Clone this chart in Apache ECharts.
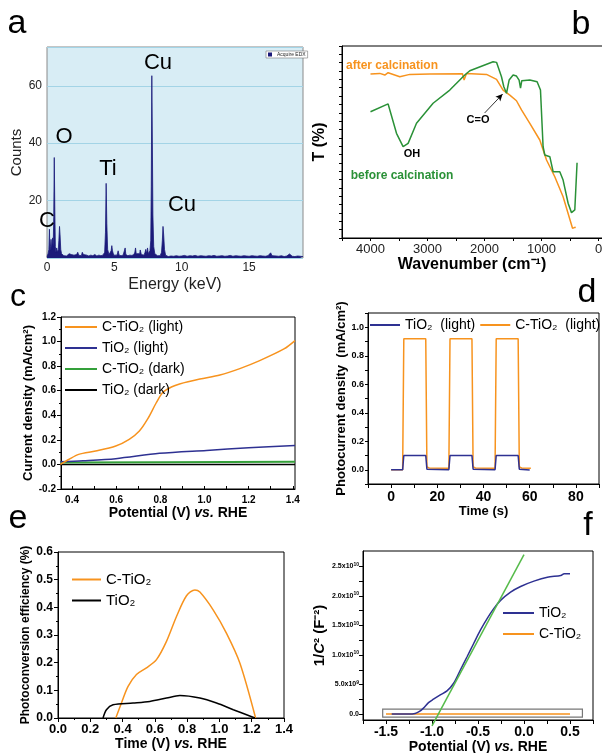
<!DOCTYPE html>
<html>
<head>
<meta charset="UTF-8">
<title>TiO2 / C-TiO2 panels</title>
<script src="https://cdn.jsdelivr.net/npm/echarts@6/dist/echarts.min.js"></script>
<style>
  html, body { margin: 0; padding: 0; background: #fff; }
  #main { width: 602px; height: 753px; }
</style>
</head>
<body>
<div id="main"></div>
<script>
// ---- a: EDX spectrum ----
var edxEnergy = [0.00,0.08,0.14,0.18,0.22,0.26,0.30,0.34,0.38,0.42,0.46,0.50,0.54,0.58,0.62,0.66,0.72,0.78,0.84,0.88,
  0.93,0.97,1.02,1.08,1.15,1.25,1.35,1.45,1.55,1.65,1.72,1.80,1.90,2.00,2.10,2.20,2.28,2.35,2.45,2.55,
  2.62,2.70,2.80,2.95,3.10,3.25,3.40,3.55,3.70,3.85,4.00,4.15,4.28,4.34,4.39,4.44,4.50,4.60,4.70,4.76,
  4.81,4.86,4.95,5.05,5.20,5.28,5.35,5.50,5.65,5.75,5.80,5.85,6.00,6.15,6.30,6.45,6.52,6.57,6.62,6.75,
  6.88,6.92,7.00,7.10,7.20,7.28,7.33,7.40,7.46,7.52,7.58,7.64,7.70,7.74,7.78,7.82,7.86,7.92,8.00,8.10,
  8.20,8.30,8.40,8.50,8.56,8.61,8.66,8.72,8.80,8.90,9.00,9.20,9.40,9.60,9.80,10.0,10.2,10.4,10.6,10.8,
  11.0,11.2,11.4,11.6,11.8,12.0,12.2,12.4,12.6,12.8,13.0,13.2,13.4,13.6,13.8,14.0,14.2,14.4,14.6,14.8,
  15.0,15.2,15.4,15.6,15.8,16.0,16.2,16.4,16.6,16.7,16.8,17.0,17.2,17.4,17.6,17.8,18.0,18.2,18.4,18.6,
  18.8,19.0];
var edxCounts = [0.5,1.5,3,10,2.5,4,6.5,3,5,7,4,14,35,17,4,2,3.5,2,3,6,
  11,8,3,1.5,1,0.8,1,0.7,1,1.5,2,1.2,0.8,1,0.8,1.2,2,1,1.5,0.8,
  2,1.2,0.8,1,0.7,1,0.8,1.2,0.7,1,0.8,1,2,9,26,12,3,1.2,1,2.5,
  4.3,2.5,1,0.8,1,2.5,1,0.8,1,1.5,3.5,1.2,0.8,1,0.9,1.2,2,3.5,1.5,1,
  1.5,2.8,1.2,1.5,1,2,3,1.5,3.5,1.5,1.2,2.5,6,25,63.5,40,15,4,1.5,1,
  0.8,0.9,0.8,2,6,11,8,3,1,0.8,0.5,0.7,0.6,0.8,0.6,0.7,0.9,0.6,0.8,0.7,
  0.9,0.6,0.8,0.7,0.6,0.8,0.7,0.9,0.6,0.7,0.8,0.6,0.7,0.9,0.6,0.8,0.7,0.6,0.8,0.7,
  0.6,0.8,0.7,0.6,0.8,0.7,0.6,0.8,1.8,0.8,0.6,0.7,0.6,0.8,0.5,0.7,1.4,0.6,0.5,0.7,
  0.6,0.5];

// ---- b: FTIR ----
var ftirAfterWn = [4000,3837,3749,3691,3486,3311,2960,2386,2358,2316,1965,1789,1674,1556,1439,1351,1205,1030,912,767,621,456,416,400];
var ftirAfterT  = [98.2,98.6,97.6,99.0,96.6,98.0,98.2,98.4,94.6,98.6,98.0,95.0,88.6,85.6,82.2,76.7,68.7,58.7,46.7,36.7,24.7,5.8,6.4,6.2];
var ftirBeforeWn = [4000,3691,3544,3428,3340,3193,2902,2609,2346,2258,1849,1789,1702,1661,1614,1568,1498,1439,1393,1368,1346,1205,1077,1018,972,942,854,796,679,621,533,474,416,376];
var ftirBeforeT  = [75.6,80.3,62.7,54.7,56.7,68.7,80.7,88.6,97.6,100.2,105.6,105.2,96.6,90.6,86.7,94.6,97.6,97.0,94.6,89.7,94.2,94.6,93.6,88.6,54.7,49.7,48.7,39.7,39.7,34.7,20.8,15.2,16.8,45.1];

// ---- c: LSV ----
var lsvCLightV = [0.347,0.385,0.43,0.507,0.598,0.659,0.705,0.742,0.781,0.811,0.85,0.887,0.979,1.07,1.16,1.25,1.36,1.41];
var lsvCLightI = [0,0.04,0.082,0.109,0.15,0.204,0.272,0.368,0.5,0.586,0.63,0.655,0.695,0.728,0.78,0.845,0.94,1.008];
var lsvTLightV = [0.347,0.45,0.598,0.796,1.009,1.2,1.41];
var lsvTLightI = [0.022,0.03,0.047,0.09,0.114,0.135,0.155];
var lsvDarkV = [0.347,0.8,1.41];
var lsvCDarkI = [0.015,0.018,0.022];
var lsvTDarkI = [0,0,0];
var lsvLabelV = [0.4,0.6,0.8,1.0,1.2,1.4];
var lsvTickV = [0.4,0.5,0.6,0.7,0.8,0.9,1.0,1.1,1.2,1.3,1.4];

// ---- d: chopped photocurrent ----
var chopCTime = [0,5,5.5,15,15.5,16.5,25,25.5,35,35.5,36.5,45,45.5,55,55.5,56.5,60.5];
var chopCI    = [0,0,0.92,0.92,0.02,0.012,0.01,0.92,0.92,0.02,0.012,0.01,0.92,0.92,0.02,0.012,0.01];
var chopTTime = [0,5,5.5,15,15.5,25,25.5,35,35.5,45,45.5,55,55.5,60];
var chopTI    = [0,0,0.1,0.1,0.004,0,0.1,0.1,0.004,0,0.1,0.1,0.004,-0.002];

// ---- e: photoconversion efficiency ----
var effCV = [0.358,0.393,0.434,0.486,0.548,0.61,0.672,0.734,0.796,0.848,0.879,0.962,1.044,1.127,1.224];
var effCE = [0,0.054,0.114,0.157,0.181,0.211,0.277,0.367,0.442,0.463,0.455,0.39,0.306,0.198,0];
var effTV = [0.279,0.3,0.341,0.465,0.569,0.672,0.755,0.879,0.982,1.086,1.22];
var effTE = [0,0.03,0.048,0.054,0.06,0.072,0.081,0.072,0.054,0.03,0];

// ---- f: Mott-Schottky ----
var msTV = [-1.438,-1.257,-1.183,-1.136,-1.093,-1.038,-0.984,-0.91,-0.837,-0.765,-0.692,-0.619,-0.547,-0.474,-0.401,-0.329,-0.255,-0.146,-0.037,0.108,0.254,0.4,0.437,0.5];
var msTY = [0,0,0.1e9,0.44e9,1.01e9,1.95e9,2.52e9,3.25e9,3.92e9,5.22e9,7.46e9,9.7e9,1.195e10,1.42e10,1.616e10,1.785e10,1.924e10,2.064e10,2.16e10,2.25e10,2.316e10,2.345e10,2.374e10,2.374e10];
var msCV = [-1.5,-0.5,0.5];
var msCY = [0,0,0];
var msFitV = [-1.0,0.0];
var msFitY = [-2.0e9,2.7e10];
var msTickY = [0,5e9,1e10,1.5e10,2e10,2.5e10];
var msMinorY = [0,2.5e9,5e9,7.5e9,1e10,1.25e10,1.5e10,1.75e10,2e10,2.25e10,2.5e10];
var msTickText = ['{m|0.0}','{m|5.0x10}{s|9}','{m|1.0x10}{s|10}','{m|1.5x10}{s|10}','{m|2.0x10}{s|10}','{m|2.5x10}{s|10}'];

var ORANGE = '#f7931e', BLUE = '#2e3192', GREEN = '#34a03a', NAVY = '#1b1a7a';
var FONT = '"Liberation Sans", Arial, sans-serif';

function pairs(xs, ys) { return xs.map(function (x, i) { return [x, ys[i]]; }); }

function axis(o) {
  return echarts.util.merge({
    type: 'value',
    splitLine: { show: false },
    axisLine: { onZero: false, lineStyle: { color: '#000', width: 1 } },
    axisTick: { lineStyle: { color: '#000' }, length: 4 },
    minorTick: { lineStyle: { color: '#000' }, length: 2 },
    axisLabel: { color: '#000', fontWeight: 'bold' },
    nameLocation: 'middle',
    nameTextStyle: { color: '#000', fontWeight: 'bold' }
  }, o, true);
}

function grid(l, t, w, h, extra) {
  return echarts.util.merge({
    left: l, top: t, width: w, height: h, outerBoundsMode: 'none',
    show: true, borderColor: '#000', borderWidth: 1
  }, extra || {}, true);
}

function line(name, xi, data, color, width, extra) {
  return echarts.util.merge({
    type: 'line', name: name, xAxisIndex: xi, yAxisIndex: xi, data: data,
    symbol: 'none', silent: true, itemStyle: { color: color },
    lineStyle: { color: color, width: width }
  }, extra || {}, true);
}

function txt(s, x, y, font, color) {
  return { type: 'text', x: x, y: y, z: 100,
    style: { text: s, font: font, fill: color || '#000', textAlign: 'center', textVerticalAlign: 'middle' } };
}

var legendText = {
  'Acquire EDX': 'Acquire EDX',
  c1: 'C-TiO\u2082 (light)', c2: 'TiO\u2082 (light)', c3: 'C-TiO\u2082 (dark)', c4: 'TiO\u2082 (dark)',
  d1: 'TiO\u2082  (light)', d2: 'C-TiO\u2082  (light)',
  e1: 'C-TiO\u2082', e2: 'TiO\u2082',
  f1: 'TiO\u2082', f2: 'C-TiO\u2082'
};
function lg(o) {
  return echarts.util.merge({
    selectedMode: false, padding: 0,
    itemStyle: { opacity: 0 },
    textStyle: { color: '#000', fontSize: 14, fontFamily: FONT },
    formatter: function (n) { return legendText[n]; }
  }, o, true);
}

var vsRich = {
  n: { fontWeight: 'bold', fontSize: 14, color: '#000', fontFamily: FONT },
  i: { fontWeight: 'bold', fontStyle: 'italic', fontSize: 14, color: '#000', fontFamily: FONT }
};

var chart = echarts.init(document.getElementById('main'), null, { renderer: 'canvas' });
chart.setOption({
  animation: false,
  backgroundColor: '#fff',
  textStyle: { fontFamily: FONT },
  grid: [
    grid(47, 47, 256, 211, { backgroundColor: '#d8edf5', borderColor: '#8a8a8a' }),
    // b runs past the right edge of the page (the 0 cm-1 end is cut off in the figure)
    grid(342, 46, 285, 192),
    grid(61, 317, 234, 172),
    grid(368, 313, 231, 171),
    grid(58, 552, 226, 166),
    grid(363, 551, 230, 169)
  ],
  xAxis: [
    axis({ gridIndex: 0, min: 0, max: 19, interval: 5,
      axisLine: { show: false }, axisTick: { show: false },
      axisLabel: { fontWeight: 'normal', fontSize: 12, color: '#222', margin: 4, showMaxLabel: false },
      name: 'Energy (keV)', nameGap: 19, nameTextStyle: { fontWeight: 'normal', fontSize: 16, color: '#222' } }),
    axis({ gridIndex: 1, min: -500, max: 4500, interval: 500, inverse: true,
      axisTick: { length: 3 },
      axisLabel: { fontWeight: 'normal', fontSize: 13, color: '#222', margin: 5,
        formatter: function (v) { var r = Math.round(v); return (r >= 0 && r <= 4000 && r % 1000 === 0) ? String(r) : ''; } },
      name: 'Wavenumber (cm\u207b\u00b9)', nameGap: 19,
      nameTextStyle: { fontSize: 16, padding: [0, 25, 0, 0] } }),
    axis({ gridIndex: 2, min: 0.35, max: 1.41,
      axisTick: { inside: true, length: 3, customValues: lsvTickV },
      axisLabel: { fontSize: 10, margin: 6, customValues: lsvLabelV,
        formatter: function (v) { return v.toFixed(1); } },
      name: '{n|Potential (V) }{i|vs.}{n| RHE}', nameGap: 17, nameTextStyle: { rich: vsRich } }),
    axis({ gridIndex: 3, min: -10, max: 90, interval: 10,
      axisLabel: { fontSize: 14, margin: 6,
        formatter: function (v) { var r = Math.round(v); return (r >= 0 && r <= 80 && r % 20 === 0) ? String(r) : ''; } },
      name: 'Time (s)', nameGap: 20, nameTextStyle: { fontSize: 13 } }),
    axis({ gridIndex: 4, min: 0, max: 1.4, interval: 0.2,
      minorTick: { show: true, splitNumber: 2 },
      axisLabel: { fontSize: 13, margin: 5, formatter: function (v) { return v.toFixed(1); } },
      name: '{n|Time (V) }{i|vs.}{n| RHE}', nameGap: 18, nameTextStyle: { rich: vsRich } }),
    axis({ gridIndex: 5, min: -1.75, max: 0.75, interval: 0.25,
      axisLabel: { fontSize: 14, margin: 5,
        formatter: function (v) { var r = Math.round(v * 4); return (r % 2 === 0 && r >= -6 && r <= 2) ? v.toFixed(1) : ''; } },
      name: '{n|Potential (V) }{i|vs.}{n| RHE}', nameGap: 17, nameTextStyle: { rich: vsRich } })
  ],
  yAxis: [
    axis({ gridIndex: 0, min: 0, max: 73.5, interval: 20,
      axisLine: { show: false }, axisTick: { show: false },
      splitLine: { show: true, lineStyle: { color: '#a3d4e6', width: 1 } },
      axisLabel: { fontWeight: 'normal', fontSize: 12, color: '#222', margin: 5, showMinLabel: false, showMaxLabel: false },
      name: 'Counts', nameGap: 20, nameTextStyle: { fontWeight: 'normal', fontSize: 15, color: '#222' } }),
    axis({ gridIndex: 1, min: 0, max: 115, interval: 5,
      axisTick: { length: 3 }, axisLabel: { show: false },
      name: 'T (%)', nameGap: 14, nameTextStyle: { fontSize: 16 } }),
    axis({ gridIndex: 2, min: -0.2, max: 1.2, interval: 0.2,
      minorTick: { show: true, splitNumber: 2 },
      axisLabel: { fontSize: 10, margin: 5, formatter: function (v) { return v.toFixed(1); } },
      name: 'Current density (mA/cm\u00b2)', nameGap: 22, nameTextStyle: { fontSize: 13 } }),
    axis({ gridIndex: 3, min: -0.1, max: 1.1, interval: 0.1,
      axisTick: { length: 3 },
      axisLabel: { fontSize: 9, margin: 4,
        formatter: function (v) { var r = Math.round(v * 10); return (r >= 0 && r <= 10 && r % 2 === 0) ? (r / 10).toFixed(1) : ''; } },
      name: 'Photocurrent density  (mA/cm\u00b2)', nameGap: 17, nameTextStyle: { fontSize: 13 } }),
    axis({ gridIndex: 4, min: 0, max: 0.6, interval: 0.1,
      minorTick: { show: true, splitNumber: 2 },
      axisLabel: { fontSize: 12, margin: 5, formatter: function (v) { return v.toFixed(1); } },
      name: 'Photoconversion efficiency (%)', nameGap: 26, nameTextStyle: { fontSize: 12 } }),
    axis({ gridIndex: 5, min: -1e9, max: 2.76e10,
      axisTick: { length: 4, customValues: msMinorY },
      axisLabel: { margin: 4, customValues: msTickY,
        formatter: function (v) { var k = msTickY.indexOf(v); return k >= 0 ? msTickText[k] : ''; },
        rich: {
          m: { fontSize: 7, fontWeight: 'bold', color: '#000', lineHeight: 9, fontFamily: FONT },
          s: { fontSize: 5, fontWeight: 'bold', color: '#000', lineHeight: 9, verticalAlign: 'top', fontFamily: FONT }
        } },
      name: '{n|1/}{c|C}{n|\u00b2 (F\u207b\u00b2)}', nameGap: 36,
      nameTextStyle: { rich: {
        n: { fontWeight: 'bold', fontSize: 15, color: '#000', fontFamily: FONT },
        c: { fontWeight: 'bold', fontStyle: 'italic', fontSize: 15, color: '#000', fontFamily: FONT } } } })
  ],
  legend: [
    lg({ data: ['Acquire EDX'], left: 266, top: 51, icon: 'rect', itemWidth: 4, itemHeight: 4,
      itemStyle: { opacity: 1 },
      padding: [1, 2], borderColor: '#777', borderWidth: 0.6, backgroundColor: '#fff',
      textStyle: { fontSize: 5, color: '#222' } }),
    lg({ data: ['c1', 'c2', 'c3', 'c4'], orient: 'vertical', left: 64, top: 320,
      itemWidth: 32, itemHeight: 14, itemGap: 7 }),
    lg({ data: ['d1', 'd2'], orient: 'horizontal', left: 369, top: 318,
      itemWidth: 30, itemHeight: 14, itemGap: 4 }),
    lg({ data: ['e1', 'e2'], orient: 'vertical', left: 71, top: 572,
      itemWidth: 29, itemHeight: 14, itemGap: 6, textStyle: { fontSize: 15 } }),
    lg({ data: ['f1', 'f2'], orient: 'vertical', left: 502, top: 606,
      itemWidth: 31, itemHeight: 14, itemGap: 7 })
  ],
  series: [
    line('Acquire EDX', 0, pairs(edxEnergy, edxCounts), NAVY, 0.8, { areaStyle: { color: NAVY, opacity: 1 } }),

    line('after calcination', 1, pairs(ftirAfterWn, ftirAfterT), ORANGE, 1.5),
    line('before calcination', 1, pairs(ftirBeforeWn, ftirBeforeT), '#2a9137', 1.5, {
      markLine: { silent: true, symbol: ['none', 'arrow'], symbolSize: [5, 7], label: { show: false },
        lineStyle: { color: '#000', width: 0.8, type: 'solid' },
        data: [[{ coord: [1997, 74.9] }, { coord: [1682, 86.2] }]] } }),

    line('c4', 2, pairs(lsvDarkV, lsvTDarkI), '#000', 1.5),
    line('c3', 2, pairs(lsvDarkV, lsvCDarkI), GREEN, 2),
    line('c2', 2, pairs(lsvTLightV, lsvTLightI), BLUE, 1.5, { smooth: 0.3 }),
    line('c1', 2, pairs(lsvCLightV, lsvCLightI), ORANGE, 1.5, { smooth: 0.3 }),

    line('d2', 3, pairs(chopCTime, chopCI), ORANGE, 1.5),
    line('d1', 3, pairs(chopTTime, chopTI), BLUE, 1.5),

    line('e1', 4, pairs(effCV, effCE), ORANGE, 1.5, { smooth: 0.3 }),
    line('e2', 4, pairs(effTV, effTE), '#000', 1.5, { smooth: 0.3 }),

    line('f2', 5, pairs(msCV, msCY), ORANGE, 1.5, {
      markArea: { silent: true, itemStyle: { color: 'rgba(0,0,0,0)', borderColor: '#777', borderWidth: 1.2 },
        data: [[{ coord: [-1.536, 0.85e9] }, { coord: [0.635, -0.5e9] }]] } }),
    line('f1', 5, pairs(msTV, msTY), BLUE, 1.5, { smooth: 0.3 }),
    line('f3', 5, pairs(msFitV, msFitY), '#55bb4a', 1.5, { clip: false, z: 3 })
  ],
  graphic: { elements: [
    txt('a', 17, 24, '34px ' + FONT),
    txt('b', 581, 25, '34px ' + FONT),
    txt('c', 18, 297, '32px ' + FONT),
    txt('d', 587, 293, '34px ' + FONT),
    txt('e', 18, 519, '34px ' + FONT),
    txt('f', 588, 526, '34px ' + FONT),
    txt('Cu', 158, 63, '22px ' + FONT),
    txt('O', 64, 137, '22px ' + FONT),
    txt('Ti', 108, 169, '22px ' + FONT),
    txt('Cu', 182, 205, '22px ' + FONT),
    txt('C', 47, 221, '22px ' + FONT),
    txt('after calcination', 392, 66, 'bold 12px ' + FONT, ORANGE),
    txt('before calcination', 402, 176, 'bold 12px ' + FONT, '#2a9137'),
    txt('OH', 412, 154, 'bold 11px ' + FONT),
    txt('C=O', 478, 120, 'bold 11px ' + FONT)
  ] }
});
</script>
</body>
</html>
